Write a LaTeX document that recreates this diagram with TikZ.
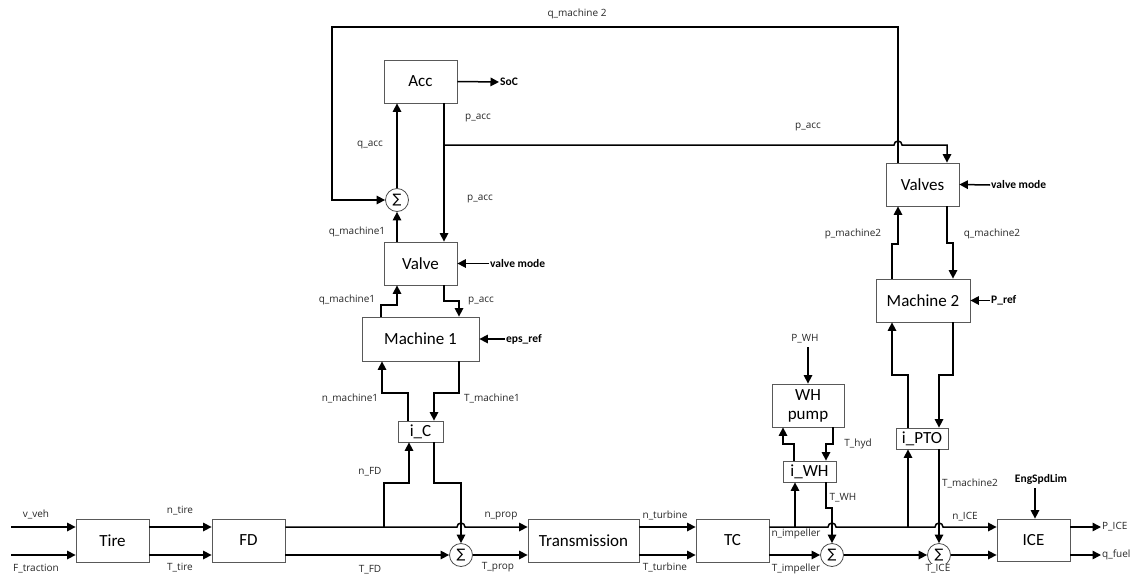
\documentclass[tikz,border=0pt]{standalone}
\usepackage{fontspec}
\setmainfont{Carlito}
\newfontfamily\djv{DejaVu Sans}
\newfontfamily\labfont{Open Sans}
\usetikzlibrary{arrows.meta}
\begin{document}
\begin{tikzpicture}[x=1pt,y=-1pt,
  box/.style={draw=black!65,line width=0.8pt,inner sep=0pt,align=center,font=\fontsize{17}{19}\selectfont},
  smallbox/.style={box,minimum height=21pt},
  sumnode/.style={circle,draw=black!70,line width=0.8pt,minimum size=23pt,inner sep=0pt,font=\djv\fontsize{13}{13}\selectfont},
  arr/.style={line width=1.5pt,-{Triangle[length=8.5pt,width=8.5pt]}},
  lab/.style={font=\labfont\fontsize{10}{12}\selectfont,text=black!85,inner sep=1pt},
  blab/.style={font=\bfseries\fontsize{11.5}{13}\selectfont,inner sep=1pt}]
\useasboundingbox (0,0) rectangle (1143,573);

% boxes
\node[box,minimum width=73pt,minimum height=43pt] (Tire) at (112.5,540.5) {Tire};
\node[box,minimum width=73pt,minimum height=43pt] (FD) at (248.5,540.5) {FD};
\node[box,minimum width=111pt,minimum height=43pt] (Trans) at (583.5,540.5) {Transmission};
\node[box,minimum width=73pt,minimum height=43pt] (TC) at (732.5,540.5) {TC};
\node[box,minimum width=73pt,minimum height=42pt] (ICE) at (1033.5,540) {ICE};
\node[smallbox,minimum width=45pt] (iC) at (420.5,431.5) {i\_C};
\node[smallbox,minimum width=53pt] (iWH) at (809.5,471.5) {i\_WH};
\node[smallbox,minimum width=52pt] (iPTO) at (922,438.5) {i\_PTO};
\node[box,minimum width=72pt,minimum height=43pt] (WH) at (808,405.5) {WH\\pump};
\node[box,minimum width=94pt,minimum height=43pt] (M2) at (923,300.5) {Machine 2};
\node[box,minimum width=73pt,minimum height=43pt] (Valves) at (922.5,184.5) {Valves};
\node[box,minimum width=73pt,minimum height=43pt] (Acc) at (420.5,81.5) {Acc};
\node[box,minimum width=73pt,minimum height=43pt] (Valve) at (420.5,263.5) {Valve};
\node[box,minimum width=117pt,minimum height=44pt] (M1) at (420.5,339) {Machine 1};

% sums
\node[sumnode] (S1) at (461,555) {∑};
\node[sumnode] (S2) at (832,555) {∑};
\node[sumnode] (S3) at (939,555) {∑};
\node[sumnode] (S4) at (397,200) {∑};

% input coordinates
\coordinate (vin) at (11,527);
\coordinate (fin) at (11,555);

% bottom chain
\draw[arr] (vin) -- (vin -| Tire.west);
\draw[arr] (fin) -- (fin -| Tire.west);
\draw[arr] (Tire.east |- vin) -- (FD.west |- vin);
\draw[arr] (Tire.east |- fin) -- (FD.west |- fin);
\draw[arr] (FD.east |- vin) -- (457,527) arc[start angle=180,end angle=0,radius=4pt] -- (Trans.west |- vin);
\draw[arr] (FD.east |- fin) -- (S1.west);
\draw[arr] (S1.east) -- (Trans.west |- fin);
\draw[arr] (Trans.east |- vin) -- (TC.west |- vin);
\draw[arr] (Trans.east |- fin) -- (TC.west |- fin);
\draw[arr] (TC.east |- vin) -- (828,527) arc[start angle=180,end angle=0,radius=4pt] -- (935,527) arc[start angle=180,end angle=0,radius=4pt] -- (ICE.west |- vin);
\draw[arr] (TC.east |- fin) -- (S2.west);
\draw[arr] (S2.east) -- (S3.west);
\draw[arr] (S3.east) -- (ICE.west |- fin);

% i_C branch
\draw[arr] (384,527) |- (409,483) -- ([xshift=-11.5pt]iC.south);
\draw[arr] ([xshift=13.5pt]iC.south) |- (461,483) -- (S1.north);
\draw[arr] ([xshift=-12.5pt]iC.north) |- (382,393) -- ([xshift=-38.5pt]M1.south);
\draw[arr] ([xshift=38.5pt]M1.south) |- (434,393) -- ([xshift=13.5pt]iC.north);

% Machine 1 / Valve / Acc
\draw[arr] ([xshift=-39.5pt]M1.north) |- (397,305) -- ([xshift=-23.5pt]Valve.south);
\draw[arr] ([xshift=23.5pt]Valve.south) |- (459,301) -- ([xshift=38.5pt]M1.north);
\draw[arr] ([xshift=-23.5pt]Valve.north) -- (S4.south);
\draw[arr] (S4.north) -- ([xshift=-23.5pt]Acc.south);
\draw[arr] ([xshift=23.5pt]Acc.south) -- ([xshift=23.5pt]Valve.north);
\draw[arr] (444,145) -- (894,145) arc[start angle=180,end angle=0,radius=4pt] -| ([xshift=24.5pt]Valves.north);
\draw[arr] ([xshift=-24.5pt]Valves.north) -- (898,27) -| (332,200) -- (S4.west);

% Valves / Machine 2 / i_PTO
\draw[arr] ([xshift=-31pt]M2.north) |- (898,244) -- ([xshift=-24.5pt]Valves.south);
\draw[arr] ([xshift=24.5pt]Valves.south) |- (953,243) -- ([xshift=30pt]M2.north);
\draw[arr] ([xshift=-14pt]iPTO.north) |- (892,375) -- ([xshift=-31pt]M2.south);
\draw[arr] ([xshift=30pt]M2.south) |- (939,375) -- ([xshift=17pt]iPTO.north);
\draw[arr] (908,527) -- ([xshift=-14pt]iPTO.south);
\draw[arr] ([xshift=17pt]iPTO.south) -- (S3.north);

% WH pump / i_WH
\draw[arr] ([xshift=-15.5pt]iWH.north) |- (783,444) -- ([xshift=-25pt]WH.south);
\draw[arr] ([xshift=25pt]WH.south) |- (826,444) -- ([xshift=16.5pt]iWH.north);
\draw[arr] (795,527) -- ([xshift=-14.5pt]iWH.south);
\draw[arr] ([xshift=16.5pt]iWH.south) |- (832,508) -- (S2.north);

% side inputs / outputs
\node[blab,anchor=west] (soc) at (499,82) {SoC};
\draw[arr] (Acc.east) -- (soc.west);
\node[blab,anchor=west] (vm1) at (489,263.5) {valve mode};
\draw[arr] (vm1.west) -- (Valve.east);
\node[blab,anchor=west] (eps) at (505,339) {eps\_ref};
\draw[arr] (eps.west) -- (M1.east);
\node[blab,anchor=west] (vm2) at (990,185) {valve mode};
\draw[arr] (vm2.west) -- (Valves.east);
\node[blab,anchor=west] (pref) at (990,300.5) {P\_ref};
\draw[arr] (pref.west) -- (M2.east);
\node[blab] (esl) at (1041,479) {EngSpdLim};
\coordinate (eslend) at (1035,488);
\draw[arr] (eslend) -- (eslend |- ICE.north);
\node[lab] (pwh) at (805,339) {P\_WH};
\coordinate (pwhend) at (808,347);
\draw[arr] (pwhend) -- (WH.north);
\node[lab,anchor=west] (pice) at (1101,527) {P\_ICE};
\draw[arr] (ICE.east |- pice) -- (pice.west);
\node[lab,anchor=west] (qfuel) at (1101,555) {q\_fuel};
\draw[arr] (ICE.east |- qfuel) -- (qfuel.west);

% labels
\node[lab] at (36,514) {v\_veh};
\node[lab] at (36,569) {F\_traction};
\node[lab] at (180,511) {n\_tire};
\node[lab] at (180,568) {T\_tire};
\node[lab] at (370,570) {T\_FD};
\node[lab] at (370,472) {n\_FD};
\node[lab] at (501,516) {n\_prop};
\node[lab] at (498,567) {T\_prop};
\node[lab] at (665,515) {n\_turbine};
\node[lab] at (665,567) {T\_turbine};
\node[lab] at (796,534) {n\_impeller};
\node[lab] at (796,569) {T\_impeller};
\node[lab] at (843,498) {T\_WH};
\node[lab] at (965,517) {n\_ICE};
\node[lab,fill=white,inner sep=0.5pt] at (938,568.5) {T\_ICE};
\node[lab] at (970,483) {T\_machine2};
\node[lab] at (858,444) {T\_hyd};
\node[lab] at (853,234) {p\_machine2};
\node[lab] at (992,234) {q\_machine2};
\node[lab] at (808,127) {p\_acc};
\node[lab] at (478,118) {p\_acc};
\node[lab] at (480,199) {p\_acc};
\node[lab] at (481,301) {p\_acc};
\node[lab] at (370,145) {q\_acc};
\node[lab] at (357,232) {q\_machine1};
\node[lab] at (347,300) {q\_machine1};
\node[lab] at (350,398) {n\_machine1};
\node[lab] at (492,398) {T\_machine1};
\node[lab] at (577,14) {q\_machine 2};
\end{tikzpicture}
\end{document}
